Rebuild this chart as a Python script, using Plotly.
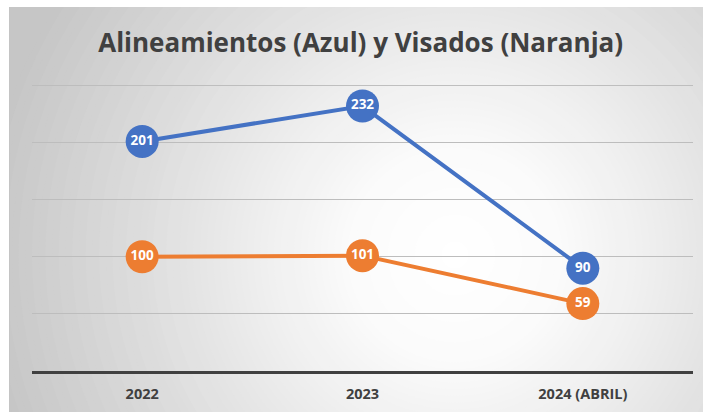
import plotly.graph_objects as go

categories = ["2022", "2023", "2024 (ABRIL)"]
alineamientos = [201, 232, 90]
visados = [100, 101, 59]
y_ticks = [0, 50, 100, 150, 200, 250]
title_text = "Alineamientos (Azul) y Visados (Naranja)"

BLUE = "#4472C4"
ORANGE = "#ED7D31"
W, H = 703, 412
L, R, T, B = 32, 10, 85, 41
pw, ph = W - L - R, H - T - B

# background radial gradient (pixel-space styling)
GCX, GCY, GR = 455, 255, 470
STOPS = [(0.0, 255), (0.22, 251), (0.6, 226), (1.0, 198)]


def grey_at(t):
    for (t0, v0), (t1, v1) in zip(STOPS, STOPS[1:]):
        if t <= t1:
            return round(v0 + (v1 - v0) * (t - t0) / (t1 - t0))
    return STOPS[-1][1]


def px(x):
    return (x - L) / pw


def py(y):
    return (H - B - y) / ph


shapes = []
N = 70
for i in range(N):
    r = GR * (1 - i / N)
    g = grey_at((r - GR / (2 * N)) / GR)
    shapes.append(dict(type="circle", xref="paper", yref="paper",
                       x0=px(GCX - r), x1=px(GCX + r), y0=py(GCY + r), y1=py(GCY - r),
                       fillcolor=f"rgb({g},{g},{g})", line=dict(width=0), layer="below"))
# white page strips at top and left, thin frame line
shapes.append(dict(type="rect", xref="paper", yref="paper", x0=px(-5), x1=px(W + 5),
                   y0=py(7), y1=py(-5), fillcolor="white", line=dict(width=0), layer="below"))
shapes.append(dict(type="rect", xref="paper", yref="paper", x0=px(-5), x1=px(9),
                   y0=py(H + 5), y1=py(-5), fillcolor="white", line=dict(width=0), layer="below"))
shapes.append(dict(type="rect", xref="paper", yref="paper", x0=px(9), x1=px(10),
                   y0=py(H + 5), y1=py(7), fillcolor="#c4c4c4", line=dict(width=0), layer="below"))

fig = go.Figure()
for vals, col in [(alineamientos, BLUE), (visados, ORANGE)]:
    fig.add_trace(go.Scatter(
        x=categories, y=vals, mode="lines+markers+text",
        line=dict(color=col, width=4),
        marker=dict(size=33, color=col, line=dict(width=0)),
        text=[str(v) for v in vals], textposition="middle center",
        textfont=dict(family="Open Sans", size=13.5, color="white", weight="bold"),
        cliponaxis=False, showlegend=False, hoverinfo="skip",
    ))

shapes.append(dict(type="line", xref="paper", yref="y", x0=0, x1=1,
                   y0=y_ticks[-1], y1=y_ticks[-1], line=dict(color="#bdbdbd", width=1), layer="below"))

fig.update_layout(
    width=W, height=H,
    margin=dict(l=L, r=R, t=T, b=B),
    paper_bgcolor="#c6c6c6", plot_bgcolor="rgba(0,0,0,0)",
    shapes=shapes,
    title=dict(text=title_text, x=0.513, xanchor="center", y=1 - 43 / H, yanchor="middle",
               font=dict(family="Open Sans", size=26, color="#404040", weight="bold")),
    xaxis=dict(range=[-0.5, 2.5], showgrid=False, zeroline=False, showline=True,
               linecolor="#404040", linewidth=2.5, ticks="", ticklabelstandoff=8,
               tickfont=dict(family="Open Sans", size=14.5, color="#404040", weight="bold"),
               fixedrange=True),
    yaxis=dict(range=[0, 250.4], tickvals=y_ticks, showticklabels=False,
               showgrid=True, gridcolor="#bdbdbd", gridwidth=1, zeroline=False,
               fixedrange=True),
)
fig.write_html("out.html", config={"displayModeBar": False},
               post_script="document.body.style.margin='0';document.body.style.overflow='hidden';")
